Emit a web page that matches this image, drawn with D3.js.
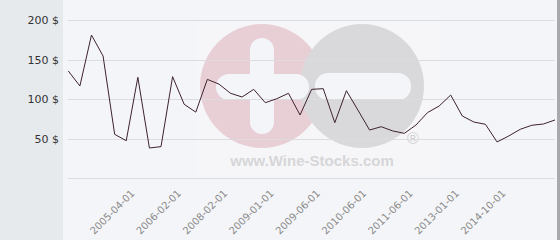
<!DOCTYPE html>
<html>
<head>
<meta charset="utf-8">
<script src="https://d3js.org/d3.v7.min.js"></script>
<style>
    body { margin: 0; background: #ffffff; }
    text { font-family: "DejaVu Sans", sans-serif; }
</style>
</head>
<body>
<div id="chart"></div>
<script>

// prices, one per category (43 in all)
let prices = [
    135.6, 116.6, 181, 154.5, 55.6, 47.5, 127.6, 38.3, 40, 128.4,
    93.5, 83.6, 125, 119, 107.4, 102.7, 112.4, 95.5, 100.6, 107.4,
    80, 112.4, 113.2, 70.3, 110.7, 86, 61, 65.2, 59.8, 56.8,
    67.3, 83, 91.3, 105.2, 78.7, 71.1, 68.2, 45.9, 53.4, 61.9,
    67, 68.6, 73.7
];

// category positions 0..42, only some of them carry a date label
let categories = d3.range(prices.length);

let tickLabels = ["2005-04-01", "2006-02-01", "2008-02-01", "2009-01-01", "2009-06-01",
    "2010-06-01", "2011-06-01", "2013-01-01", "2014-10-01"];
let tickAt = [6, 10, 14, 18, 22, 26, 30, 34, 38];

let yTicks = [0, 50, 100, 150, 200];

let svgWidth = 560;
let svgHeight = 240;

let svg = d3
    .select("#chart")
    .append("svg")
    .attr("width", svgWidth)
    .attr("height", svgHeight);

// backgrounds: grey label panel on the left, pale plot area, dark right edge
svg.append("rect")
    .attr("x", 0).attr("y", 0)
    .attr("width", 63).attr("height", svgHeight)
    .attr("fill", "#e6eaed");

svg.append("rect")
    .attr("x", 63).attr("y", 0)
    .attr("width", 494).attr("height", svgHeight)
    .attr("fill", "#f4f5f8");

svg.append("rect")
    .attr("x", 557).attr("y", 0)
    .attr("width", 3).attr("height", svgHeight)
    .attr("fill", "#a9a9ab");

let xScale = d3.scalePoint()
    .domain(categories)
    .range([68.3, 555]);

let yScale = d3.scaleLinear()
    .domain([0, 200])
    .range([178.3, 20]);

// watermark
let wm = svg.append("g");

wm.append("rect")
    .attr("x", 197).attr("y", 20)
    .attr("width", 243).attr("height", 156)
    .attr("fill", "#ffffff")
    .attr("opacity", 0.18);

wm.append("circle")
    .attr("cx", 262).attr("cy", 86).attr("r", 62)
    .attr("fill", "#e8cfd6");

wm.append("circle")
    .attr("cx", 362).attr("cy", 86).attr("r", 62)
    .attr("fill", "#d9d9db");

// plus sign
wm.append("rect")
    .attr("x", 250).attr("y", 38)
    .attr("width", 24).attr("height", 96)
    .attr("rx", 12)
    .attr("fill", "#f4f5f8");

wm.append("rect")
    .attr("x", 216).attr("y", 74)
    .attr("width", 93).attr("height", 26)
    .attr("rx", 13)
    .attr("fill", "#f4f5f8");

// minus sign
wm.append("rect")
    .attr("x", 315).attr("y", 73)
    .attr("width", 96).attr("height", 27)
    .attr("rx", 13)
    .attr("fill", "#f4f5f8");

wm.append("text")
    .attr("x", 312).attr("y", 166)
    .attr("text-anchor", "middle")
    .style("font-family", "Liberation Sans, Arial, sans-serif")
    .style("font-weight", "bold")
    .style("font-size", "15px")
    .attr("fill", "#d6d6d8")
    .text("www.Wine-Stocks.com");

wm.append("text")
    .attr("x", 413).attr("y", 144)
    .attr("text-anchor", "middle")
    .style("font-family", "Liberation Sans, Arial, sans-serif")
    .style("font-size", "16px")
    .attr("fill", "#d0d0d2")
    .text("®");

// grid lines
svg.append("g")
    .selectAll("line")
    .data(yTicks)
    .enter()
    .append("line")
    .attr("x1", 68)
    .attr("x2", 555)
    .attr("y1", d => Math.round(yScale(d)) + 0.5)
    .attr("y2", d => Math.round(yScale(d)) + 0.5)
    .attr("stroke", "#dcdcde")
    .attr("stroke-width", 1);

// y axis labels (no label at 0)
let leftAxis = d3.axisLeft(yScale)
    .tickValues(yTicks.filter(d => d > 0))
    .tickFormat(d => d + " $")
    .tickSize(0)
    .tickPadding(0);

let yAxis = svg.append("g")
    .attr("transform", "translate(59,0)")
    .call(leftAxis);

yAxis.select(".domain").remove();
yAxis.selectAll("text")
    .style("font-family", "DejaVu Sans, sans-serif")
    .style("font-size", "11px")
    .attr("fill", "#333333");

// x axis labels, rotated
let bottomAxis = d3.axisBottom(xScale)
    .tickValues(tickAt)
    .tickFormat((d, i) => tickLabels[i])
    .tickSize(0)
    .tickPadding(0);

let xAxis = svg.append("g")
    .attr("transform", "translate(-3,194)")
    .call(bottomAxis);

xAxis.select(".domain").remove();
xAxis.selectAll("text")
    .style("font-family", "DejaVu Sans, sans-serif")
    .style("font-size", "10px")
    .attr("fill", "#8a8a8a")
    .attr("text-anchor", "end")
    .attr("dy", "0")
    .attr("y", 0)
    .attr("transform", "rotate(-45)");

// price line
let line = d3.line()
    .x((d, i) => xScale(categories[i]))
    .y(d => yScale(d));

svg.append("path")
    .datum(prices)
    .attr("d", line)
    .attr("fill", "none")
    .attr("stroke", "#3d2230")
    .attr("stroke-width", 1);

</script>
</body>
</html>
